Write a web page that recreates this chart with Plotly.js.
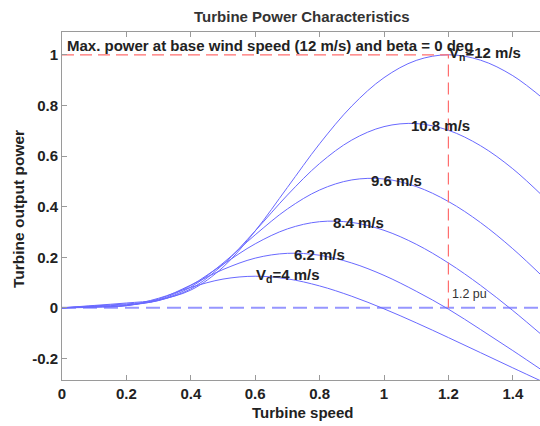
<!DOCTYPE html>
<html>
<head>
<meta charset="utf-8">
<script src="https://cdn.plot.ly/plotly-3.0.1.min.js"></script>
<style>
  html, body { margin: 0; padding: 0; overflow: hidden; background: #fff; }
  #chart { width: 546px; height: 426px; }
</style>
</head>
<body>
<div id="chart"></div>
<script>
// ---- data ----
const speed = [0, 0.1, 0.2, 0.3, 0.4, 0.5, 0.6, 0.7, 0.8, 0.9, 1.0, 1.1, 1.2, 1.3, 1.4, 1.5];
const power12  = [0, 0.0096, 0.0192, 0.0321, 0.0702, 0.1607, 0.3040, 0.4759, 0.6483, 0.7975, 0.9096, 0.9777, 1.0000, 0.9786, 0.9174, 0.8209];
const power108 = [0, 0.0078, 0.0156, 0.0294, 0.0752, 0.1713, 0.3041, 0.4457, 0.5705, 0.6631, 0.7162, 0.7283, 0.7017, 0.6405, 0.5495, 0.4333];
const power96  = [0, 0.0061, 0.0125, 0.0289, 0.0823, 0.1768, 0.2886, 0.3908, 0.4657, 0.5056, 0.5093, 0.4794, 0.4203, 0.3368, 0.2336, 0.1149];
const power84  = [0, 0.0047, 0.0101, 0.0309, 0.0888, 0.1719, 0.2530, 0.3120, 0.3405, 0.3376, 0.3064, 0.2514, 0.1774, 0.0889, -0.0105, -0.1176];
const power62  = [0, 0.0034, 0.0087, 0.0347, 0.0901, 0.1515, 0.1965, 0.2155, 0.2079, 0.1773, 0.1284, 0.0658, -0.0050, -0.0857, -0.1688, -0.2543];
const power4   = [0, 0.0024, 0.0088, 0.0380, 0.0810, 0.1137, 0.1250, 0.1147, 0.0867, 0.0458, -0.0038, -0.0590, -0.1174, -0.1771, -0.2370, -0.2961];

const curveLabels = ["V<sub>n</sub>=12 m/s", "10.8 m/s", "9.6 m/s", "8.4 m/s", "6.2 m/s", "V<sub>d</sub>=4 m/s"];
const baseSpeed = 1.2;   // pu
const basePower = 1;     // pu
const zeroPower = 0;
const speedSpan = [0, 1.5];

const xTickVals = [0, 0.2, 0.4, 0.6, 0.8, 1, 1.2, 1.4];
const xTickText = ["0", "0.2", "0.4", "0.6", "0.8", "1", "1.2", "1.4"];
const yTickVals = [-0.2, 0, 0.2, 0.4, 0.6, 0.8, 1];
const yTickText = ["-0.2", "0", "0.2", "0.4", "0.6", "0.8", "1"];

const titleText = "Turbine Power Characteristics";
const noteText = "Max. power at base wind speed (12 m/s) and beta = 0 deg";
const xTitle = "Turbine speed";
const yTitle = "Turbine output power";
const puText = "1.2 pu";

// ---- drawing ----
const FONT = "Liberation Sans, Arial, Helvetica, sans-serif";
const curveColor = "rgb(105,105,255)";
const series = [power12, power108, power96, power84, power62, power4];

const traces = series.map(p => ({
  x: speed, y: p, type: "scatter", mode: "lines",
  line: { color: curveColor, width: 1, shape: "spline", smoothing: 1 },
  hoverinfo: "skip", showlegend: false
}));

// zero line (blue dashed)
traces.unshift({
  x: speedSpan, y: [zeroPower, zeroPower], type: "scatter", mode: "lines",
  line: { color: "rgb(150,150,255)", width: 2, dash: "14px,7px" },
  hoverinfo: "skip", showlegend: false
});
// base power / base speed (red dashed)
traces.push({
  x: [0, baseSpeed, baseSpeed], y: [basePower, basePower, zeroPower], type: "scatter", mode: "lines",
  line: { color: "rgb(255,110,110)", width: 1.2, dash: "12px,6px" },
  hoverinfo: "skip", showlegend: false
});

const bold = { family: FONT, size: 15, color: "#222", weight: 700 };

const labelPos = [
  { x: 1.2, y: 1.006, xanchor: "left" },
  { x: 1.174, y: 0.719, xanchor: "center" },
  { x: 1.040, y: 0.505, xanchor: "center" },
  { x: 0.920, y: 0.337, xanchor: "center" },
  { x: 0.799, y: 0.209, xanchor: "center" },
  { x: 0.600, y: 0.126, xanchor: "left" }
];

const annotations = curveLabels.map((t, i) => ({
  text: t, x: labelPos[i].x, y: labelPos[i].y, xref: "x", yref: "y",
  xanchor: labelPos[i].xanchor, yanchor: "middle", showarrow: false,
  font: bold, borderpad: 0
}));

annotations.push({
  text: noteText, x: 0.012, y: 1.036, xref: "x", yref: "y", xanchor: "left", yanchor: "middle",
  showarrow: false, font: bold, borderpad: 0
});
annotations.push({
  text: puText, x: 1.208, y: 0.054, xref: "x", yref: "y", xanchor: "left", yanchor: "middle",
  showarrow: false, font: { family: FONT, size: 12.5, color: "#333" }, borderpad: 0
});
annotations.push({
  text: xTitle, x: 302, y: 412, xref: "paper", yref: "paper", showarrow: false,
  font: bold
});
annotations.push({
  text: yTitle, textangle: -90, x: 18, y: 209, showarrow: false, font: Object.assign({}, bold, { size: 15.5 })
});
annotations.push({
  text: titleText, x: 302, y: 16, showarrow: false, font: Object.assign({}, bold, { color: "#333" })
});

// convert the last three to pixel-based paper coords
const W = 546, H = 426, M = { l: 62, r: 1, t: 32, b: 46 };
const pw = W - M.l - M.r, ph = H - M.t - M.b;
function px2paper(a) {
  a.xref = "paper"; a.yref = "paper";
  a.x = (a.x - M.l) / pw; a.y = 1 - (a.y - M.t) / ph;
  a.xanchor = "center"; a.yanchor = "middle";
  return a;
}
for (let i = annotations.length - 3; i < annotations.length; i++) px2paper(annotations[i]);

const axisCommon = {
  showgrid: false, zeroline: false, showline: true, linecolor: "#9a9a9a", linewidth: 1,
  mirror: "ticks", ticks: "inside", ticklen: 5, tickcolor: "#9a9a9a", tickwidth: 1,
  tickfont: bold, fixedrange: true
};

const layout = {
  width: W, height: H,
  margin: M,
  paper_bgcolor: "#fff", plot_bgcolor: "#fff",
  showlegend: false,
  xaxis: Object.assign({}, axisCommon, {
    range: speedSpan, tickmode: "array", tickvals: xTickVals, ticktext: xTickText
  }),
  yaxis: Object.assign({}, axisCommon, {
    range: [-0.285, 1.09], tickmode: "array", tickvals: yTickVals, ticktext: yTickText
  }),
  annotations: annotations
};

Plotly.newPlot("chart", traces, layout, { staticPlot: true, displayModeBar: false });
</script>
</body>
</html>
